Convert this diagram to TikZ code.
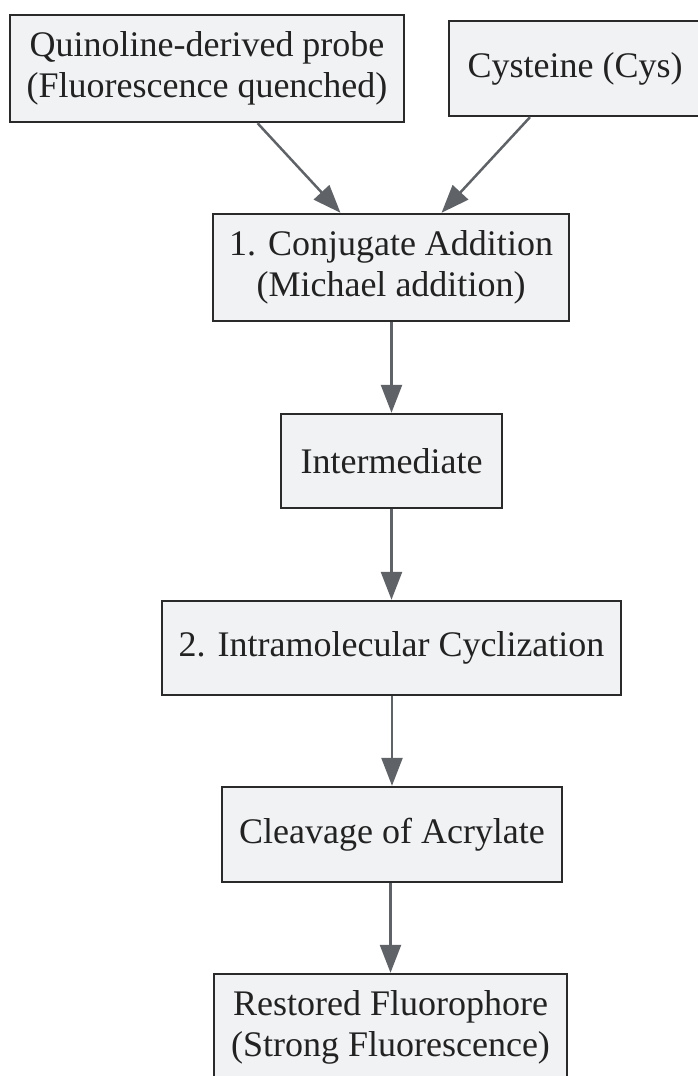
\documentclass[tikz,border=0pt]{standalone}
\usepackage{fontspec}
\setmainfont{Liberation Serif}
\usetikzlibrary{arrows.meta,positioning}

\definecolor{boxfill}{HTML}{F1F2F4}
\definecolor{boxline}{HTML}{2A2A2A}
\definecolor{flowline}{HTML}{5F6368}
\definecolor{boxtext}{HTML}{222222}

\tikzset{
  stage/.style={rectangle,draw=boxline,line width=2.4pt,fill=boxfill,text=boxtext,
    align=center,inner sep=0pt,font=\fontsize{36}{41}\selectfont},
  flow/.style={draw=flowline,line width=2.5pt,-{Triangle[length=28pt,width=21pt]}}
}

\begin{document}
\begin{tikzpicture}[x=1pt,y=1pt]
    \useasboundingbox (0,0) rectangle (698,-1076);
    \clip (0,0) rectangle (698,-1076);

    \node at (207,-68.5) [stage,minimum width=394pt,minimum height=107pt]
      (probe) {Quinoline-derived probe\\(Fluorescence quenched)};
    \node at (575,-68.5) [stage,minimum width=252pt,minimum height=95pt]
      (cys) {Cysteine (Cys)};
    \node at (391,-267.5) [stage,minimum width=356pt,minimum height=107pt]
      (addition) {1. Conjugate Addition\\(Michael addition)};
    \node at (391.5,-461) [stage,minimum width=221pt,minimum height=94pt]
      (intermediate) {Intermediate};
    \node at (391.5,-648) [stage,minimum width=459pt,minimum height=94pt]
      (cyclization) {2. Intramolecular Cyclization};
    \node at (392,-834.5) [stage,minimum width=340pt,minimum height=95pt]
      (cleavage) {Cleavage of Acrylate};
    \node at (390.5,-1027.5) [stage,minimum width=353pt,minimum height=107pt]
      (restored) {Restored Fluorophore\\(Strong Fluorescence)};

    % reaction steps
    \draw[flow] (probe) -- (addition);
    \draw[flow] (cys) -- (addition);
    \draw[flow] (addition.south -| intermediate.north) -- (intermediate.north);
    \draw[flow] (intermediate) -- (cyclization);
    \draw[flow] (cyclization.south -| cleavage.north) -- (cleavage.north);
    \draw[flow] (cleavage.south -| restored.north) -- (restored.north);
\end{tikzpicture}
\end{document}
